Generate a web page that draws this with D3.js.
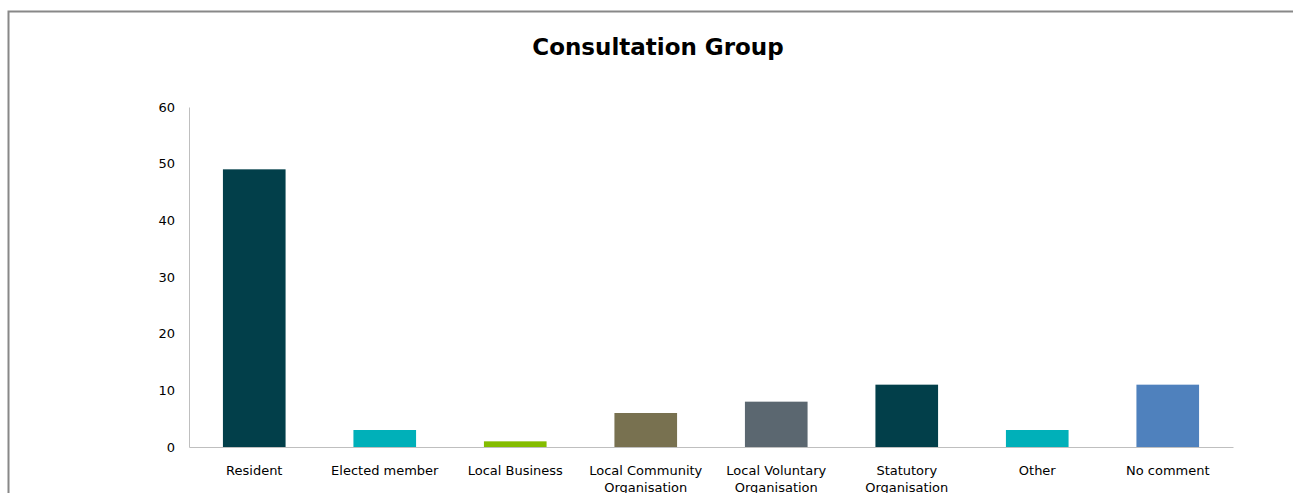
<!DOCTYPE html>
<html>
<head>
<meta charset="utf-8">
<script src="https://cdn.jsdelivr.net/npm/d3@7"></script>
<style>
  body { margin: 0; background: #fff; }
  svg { display: block; font-family: Tahoma, Verdana, "DejaVu Sans", sans-serif; }
</style>
</head>
<body>
<div id="chart-area"></div>
<script>
// data
var categories = ["Resident", "Elected member", "Local Business", "Local Community Organisation",
                  "Local Voluntary Organisation", "Statutory Organisation", "Other", "No comment"];
var labelLines = [["Resident"], ["Elected member"], ["Local Business"], ["Local Community", "Organisation"],
                  ["Local Voluntary", "Organisation"], ["Statutory", "Organisation"], ["Other"], ["No comment"]];
var values = [49, 3, 1, 6, 8, 11, 3, 11];
var colors = ["#023f4a", "#00b0b9", "#84bd00", "#787150", "#5b6770", "#023f4a", "#00b0b9", "#4f81bd"];
var yTicks = [0, 10, 20, 30, 40, 50, 60];

var W = 1293, H = 493;
var margin = { left: 189, right: 60, top: 107, bottom: 46 };
var width = W - margin.left - margin.right,
    height = H - margin.top - margin.bottom;

var svg = d3.select("#chart-area")
    .append("svg")
        .attr("width", W)
        .attr("height", H);

// chart border (runs off the right and bottom edges)
svg.append("rect")
    .attr("x", 8.5)
    .attr("y", 11.5)
    .attr("width", W + 20)
    .attr("height", H + 20)
    .attr("fill", "none")
    .attr("stroke", "#888")
    .attr("stroke-width", 2);

// title
svg.append("text")
    .attr("x", 658)
    .attr("y", 55)
    .attr("text-anchor", "middle")
    .attr("font-size", "23px")
    .attr("font-weight", "bold")
    .attr("fill", "#000")
    .text("Consultation Group");

var g = svg.append("g")
    .attr("transform", "translate(" + margin.left + "," + margin.top + ")");

var x = d3.scaleBand()
    .domain(categories)
    .range([0, width])
    .paddingInner(0.52)
    .paddingOuter(0.26);

var y = d3.scaleLinear()
    .domain([0, 60])
    .range([height, 0]);

// Y axis
var yAxis = g.append("g")
    .call(d3.axisLeft(y).tickValues(yTicks).tickSize(0).tickPadding(14));
yAxis.select(".domain").attr("stroke", "#bfbfbf");
yAxis.selectAll("text").attr("font-size", "13px").attr("fill", "#000")
    .attr("font-family", "Tahoma, Verdana, 'DejaVu Sans', sans-serif");

// Bars
g.selectAll("rect.bar")
    .data(values)
    .enter()
    .append("rect")
        .attr("class", "bar")
        .attr("x", function(d, i){ return x(categories[i]); })
        .attr("width", x.bandwidth())
        .attr("y", function(d){ return y(d); })
        .attr("height", function(d){ return height - y(d); })
        .attr("fill", function(d, i){ return colors[i]; });

// X axis
var xAxis = g.append("g")
    .attr("transform", "translate(0," + height + ")")
    .call(d3.axisBottom(x).tickSize(0).tickFormat(""));
xAxis.select(".domain").attr("stroke", "#bfbfbf");

xAxis.selectAll(".tick").each(function(d, i) {
    var t = d3.select(this).append("text")
        .attr("fill", "#000")
        .attr("font-size", "13px")
        .attr("font-family", "Tahoma, Verdana, 'DejaVu Sans', sans-serif")
        .attr("text-anchor", "middle")
        .attr("y", 28);
    labelLines[i].forEach(function(line, k) {
        t.append("tspan").attr("x", 0).attr("dy", k === 0 ? 0 : 17).text(line);
    });
});
</script>
</body>
</html>
